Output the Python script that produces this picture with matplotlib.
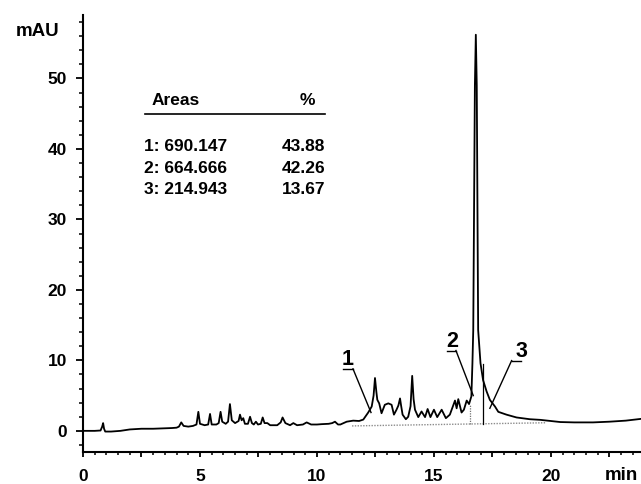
import matplotlib
matplotlib.use("Agg")
import matplotlib.pyplot as plt
from matplotlib.ticker import MultipleLocator, FuncFormatter

# ---- data ----
time_min = [0.0, 0.5, 0.75, 0.82, 0.86, 0.90, 0.95, 1.2, 1.6, 2.0, 2.5, 3.0, 3.4, 3.8, 4.0,
            4.1, 4.2, 4.3, 4.5, 4.7, 4.85, 4.93, 5.0, 5.2, 5.35, 5.43, 5.5, 5.7, 5.8, 5.88,
            5.95, 6.1, 6.2, 6.28, 6.36, 6.5, 6.65, 6.71, 6.78, 6.85, 6.92, 7.05, 7.14, 7.22,
            7.3, 7.39, 7.48, 7.6, 7.68, 7.76, 7.88, 8.0, 8.3, 8.45, 8.53, 8.65, 8.85, 8.99,
            9.15, 9.4, 9.56, 9.75, 10.0, 10.2, 10.5, 10.65, 10.77, 10.9, 11.0, 11.27, 11.55,
            11.8, 11.98, 12.19, 12.34, 12.42, 12.48, 12.54, 12.58, 12.66, 12.76, 12.9, 13.05,
            13.19, 13.29, 13.4, 13.48, 13.55, 13.6, 13.66, 13.8, 13.9, 14.0, 14.07, 14.13,
            14.19, 14.33, 14.47, 14.62, 14.73, 14.85, 15.0, 15.14, 15.33, 15.51, 15.68, 15.9,
            15.97, 16.04, 16.18, 16.28, 16.4, 16.5, 16.6, 16.645, 16.68, 16.71, 16.75, 16.79,
            16.83, 16.865, 16.89, 16.99, 17.10, 17.25, 17.39, 17.61, 17.75, 18.1, 18.53, 19.1,
            19.55, 20.4, 21.0, 21.8, 22.5, 23.2, 23.85]
signal_mau = [0.0, 0.0, 0.05, 0.6, 1.1, 0.3, -0.1, -0.1, 0.0, 0.2, 0.3, 0.3, 0.35, 0.4, 0.45,
              0.6, 1.2, 0.7, 0.6, 0.7, 0.9, 2.7, 1.0, 0.8, 0.9, 2.4, 0.9, 0.9, 1.1, 2.7,
              1.3, 1.0, 1.3, 3.8, 1.5, 1.1, 1.4, 2.3, 1.5, 1.8, 1.0, 1.0, 2.0, 1.1,
              0.9, 1.3, 0.9, 1.0, 1.9, 1.1, 1.1, 0.8, 0.8, 1.2, 1.9, 1.1, 0.8, 1.1,
              0.8, 0.9, 1.2, 0.9, 0.9, 0.95, 1.0, 1.1, 1.3, 0.9, 0.9, 1.3, 1.45,
              1.4, 1.6, 2.6, 3.45, 5.0, 7.5, 5.5, 4.4, 3.9, 2.5, 3.7, 3.9,
              3.7, 2.3, 3.0, 3.6, 4.6, 3.5, 2.3, 1.65, 2.0, 3.5, 7.8, 4.5,
              3.0, 1.95, 2.75, 1.95, 3.1, 1.95, 3.0, 1.95, 3.0, 1.8, 2.3, 4.3,
              3.2, 4.5, 2.6, 3.0, 4.3, 3.8, 4.9, 9.6, 14.3, 30.0, 49.0, 56.2,
              49.0, 30.0, 14.3, 9.6, 7.2, 5.6, 4.4, 3.45, 2.7, 2.3, 1.9, 1.65,
              1.56, 1.25, 1.2, 1.2, 1.3, 1.45, 1.7]

baseline_t = [11.5, 19.8]
baseline_y = [0.7, 1.15]
drop_dotted = (16.54, 0.95, 3.8)
drop_solid = (17.10, 1.0, 9.5)

peak_labels = ["1", "2", "3"]
label_xy = [(11.32, 10.1), (15.77, 12.7), (18.74, 11.25)]
leader_bar = [((11.11, 11.54), 8.8), ((15.54, 15.94), 11.4), ((18.32, 18.72), 9.97)]
leader_end = [(11.54, 8.8, 12.31, 2.6), (15.94, 11.4, 16.68, 5.0), (18.32, 9.97, 17.39, 3.2)]

area_ids = ["1", "2", "3"]
area_vals = ["690.147", "664.666", "214.943"]
area_pct = ["43.88", "42.26", "13.67"]

FONT = "Liberation Sans"
plt.rcParams["font.family"] = [FONT, "DejaVu Sans"]
plt.rcParams["font.weight"] = "bold"

fig = plt.figure(figsize=(6.41, 4.84), dpi=100)
ax = fig.add_axes([83 / 641, 32 / 484, 558 / 641, 437 / 484])

ax.plot(time_min, signal_mau, color="black", lw=1.3, solid_joinstyle="round")
ax.plot(baseline_t, baseline_y, color="0.55", lw=1.0, ls=(0, (1, 1)))
ax.plot([drop_dotted[0]] * 2, drop_dotted[1:], color="0.45", lw=0.9, ls=(0, (1, 1)))
ax.plot([drop_solid[0]] * 2, drop_solid[1:], color="black", lw=0.9)

for lab, (tx, ty), ((x0, x1), yb), (a, b, c, d) in zip(peak_labels, label_xy, leader_bar, leader_end):
    ax.text(tx, ty, lab, fontsize=15.5, fontweight="bold", ha="center", va="center")
    ax.plot([x0, x1], [yb, yb], color="black", lw=1.0)
    ax.plot([a, c], [b, d], color="black", lw=1.0)

# area table
ax.text(2.95, 46.8, "Areas", fontsize=12.5, fontweight="bold", ha="left", va="center")
ax.text(9.91, 46.8, "%", fontsize=12.5, fontweight="bold", ha="right", va="center")
ax.plot([2.65, 10.34], [45.0, 45.0], color="black", lw=1.2)
row_y = [40.35, 37.2, 34.2]
for i, v, p, yy in zip(area_ids, area_vals, area_pct, row_y):
    ax.text(2.6, yy, f"{i}: {v}", fontsize=12.5, fontweight="bold", ha="left", va="center")
    ax.text(10.34, yy, p, fontsize=12.5, fontweight="bold", ha="right", va="center")

ax.set_xlim(0, 23.85)
ax.set_ylim(-3, 59)
for s in ["top", "right"]:
    ax.spines[s].set_visible(False)
for s in ["left", "bottom"]:
    ax.spines[s].set_linewidth(1.5)

ax.xaxis.set_major_locator(MultipleLocator(2.5))
ax.xaxis.set_minor_locator(MultipleLocator(0.5))
ax.xaxis.set_major_formatter(FuncFormatter(lambda v, p: f"{int(round(v))}" if abs(v / 5 - round(v / 5)) < 1e-6 else ""))
ax.yaxis.set_major_locator(MultipleLocator(10))
ax.yaxis.set_minor_locator(MultipleLocator(2))

ax.tick_params(axis="y", which="major", direction="out", length=5, width=1.3, pad=6.5, labelsize=12.5)
ax.tick_params(axis="y", which="minor", direction="out", length=3, width=1.1)
ax.tick_params(axis="x", which="major", direction="out", length=3.6, width=1.3, pad=8.5, labelsize=12.5)
ax.tick_params(axis="x", which="minor", direction="out", length=2, width=1.1)
for lbl in ax.get_xticklabels() + ax.get_yticklabels():
    lbl.set_fontweight("bold")

fig.text(38 / 641, 1 - 31 / 484, "mAU", fontsize=13.5, fontweight="bold", ha="center", va="center")
fig.text(638 / 641, 1 - 476 / 484, "min", fontsize=13.5, fontweight="bold", ha="right", va="center")

fig.savefig("out.png", dpi=100)
